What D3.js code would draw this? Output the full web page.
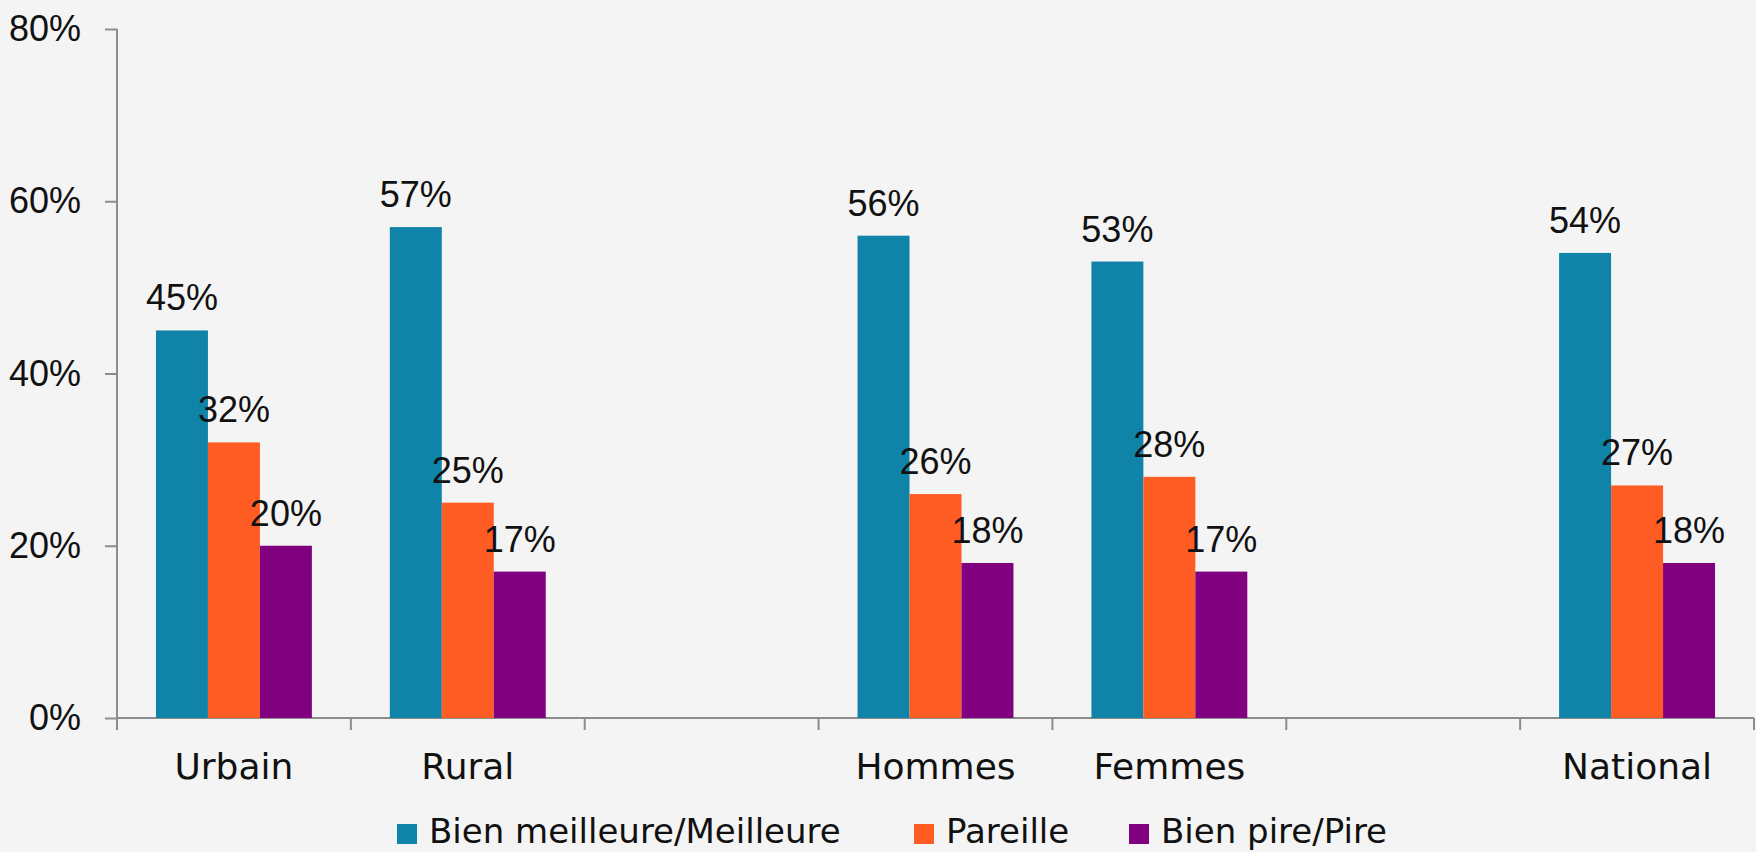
<!DOCTYPE html>
<html>
<head>
<meta charset="utf-8">
<script src="https://cdn.jsdelivr.net/npm/d3@7/dist/d3.min.js"></script>
<style>
  body { margin: 0; background: #f4f4f4; }
  svg { display: block; font-family: "DejaVu Sans", sans-serif; }
  .axis path, .axis line { stroke: #8c8c8c; stroke-width: 2; }
  .num { font-family: "Liberation Sans", sans-serif; }
</style>
</head>
<body>
<svg width="1756" height="852"></svg>
<script>
// categories (blank slots are spacer columns in the original)
const categories = ['Urbain', 'Rural', ' ', 'Hommes', 'Femmes', '  ', 'National'];
const series = ['Bien meilleure/Meilleure', 'Pareille', 'Bien pire/Pire'];
const meilleure = [45, 57, null, 56, 53, null, 54];
const pareille  = [32, 25, null, 26, 28, null, 27];
const pire      = [20, 17, null, 18, 17, null, 18];
const yTicks = [0, 20, 40, 60, 80];
const colors = ['#1083a9', '#ff5c23', '#800080'];

const svg = d3.select('svg');
const plotL = 117, plotR = 1754, plotT = 29, plotB = 718;

const x = d3.scaleBand()
  .domain(categories)
  .range([plotL, plotR])
  .paddingInner(0)
  .paddingOuter(0);

// gap width 150% -> each band holds 3 bars + 1.5 bar of gap
const barW = x.bandwidth() / 4.5;
const xs = d3.scaleBand()
  .domain(series)
  .range([barW * 0.75, barW * 3.75]);

const y = d3.scaleLinear()
  .domain([0, 80])
  .range([plotB, plotT]);

// axes
svg.append('g')
  .attr('class', 'axis')
  .attr('transform', `translate(${plotL},0)`)
  .call(d3.axisLeft(y).tickValues(yTicks).tickSize(12).tickPadding(24).tickFormat(d => d + '%'))
  .call(g => g.select('.domain').attr('d', `M0,${plotT}V${plotB}`))
  .call(g => g.selectAll('text')
    .attr('class', 'num')
    .attr('font-size', 36)
    .attr('fill', '#111'));

const xAxis = svg.append('g')
  .attr('class', 'axis')
  .attr('transform', `translate(0,${plotB})`);
xAxis.append('line').attr('x1', plotL).attr('x2', plotR).attr('y1', 0).attr('y2', 0);
const edges = categories.map(c => x(c)).concat([plotR]);
xAxis.selectAll('.tk').data(edges).enter().append('line')
  .attr('x1', d => d).attr('x2', d => d).attr('y1', 0).attr('y2', 12);
xAxis.selectAll('.lbl').data(categories).enter().append('text')
  .attr('x', d => x(d) + x.bandwidth() / 2)
  .attr('y', 61)
  .attr('text-anchor', 'middle')
  .attr('font-size', 36)
  .attr('fill', '#111')
  .text(d => d.trim());

// bars
const rows = [meilleure, pareille, pire];
const data = [];
categories.forEach((c, i) => {
  series.forEach((s, j) => {
    if (rows[j][i] != null) data.push({ cat: c, s: s, j: j, v: rows[j][i] });
  });
});

const barG = svg.append('g');
barG.selectAll('rect').data(data).enter().append('rect')
  .attr('x', d => x(d.cat) + xs(d.s))
  .attr('y', d => y(d.v))
  .attr('width', xs.bandwidth())
  .attr('height', d => plotB - y(d.v))
  .attr('fill', d => colors[d.j]);

barG.selectAll('text').data(data).enter().append('text')
  .attr('class', 'num')
  .attr('x', d => x(d.cat) + xs(d.s) + xs.bandwidth() / 2)
  .attr('y', d => y(d.v) - 20)
  .attr('text-anchor', 'middle')
  .attr('font-size', 36)
  .attr('fill', '#111')
  .text(d => d.v + '%');

// legend
const legendX = [397, 914, 1129];
const leg = svg.append('g');
series.forEach((s, j) => {
  leg.append('rect')
    .attr('x', legendX[j]).attr('y', 824)
    .attr('width', 20).attr('height', 20)
    .attr('fill', colors[j]);
  leg.append('text')
    .attr('x', legendX[j] + 32).attr('y', 843)
    .attr('font-size', 34)
    .attr('fill', '#111')
    .text(s);
});
</script>
</body>
</html>
